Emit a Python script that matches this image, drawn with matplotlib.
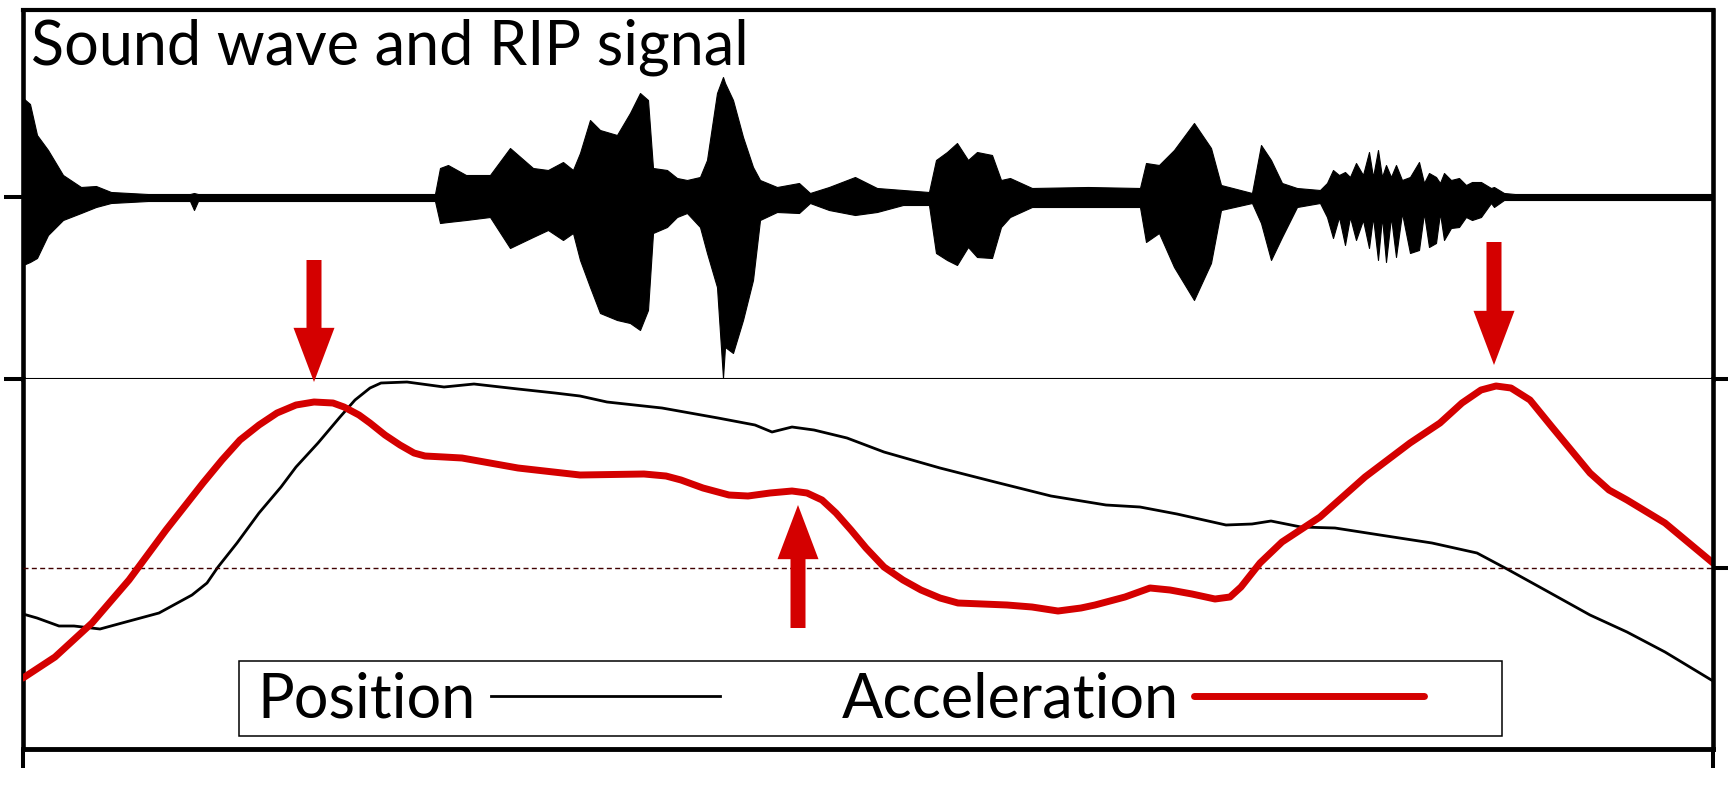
import matplotlib
matplotlib.use("Agg")
import matplotlib.pyplot as plt
from matplotlib.patches import Rectangle

plt.rcParams["font.family"] = ["Lato", "DejaVu Sans"]

RED = "#d40000"

# sound wave, upper and lower envelope (time in s, arbitrary amplitude)
wave_t = [0.000, 0.014, 0.028, 0.050, 0.080, 0.116, 0.146, 0.176, 0.250, 0.334,
          0.342, 0.350, 0.554, 0.754, 0.824, 0.834, 0.850, 0.886, 0.934, 0.974,
          1.020, 1.050, 1.080, 1.100, 1.114, 1.134, 1.154, 1.188, 1.214, 1.234,
          1.250, 1.260, 1.288, 1.308, 1.328, 1.354, 1.368, 1.388, 1.400, 1.404,
          1.420, 1.440, 1.460, 1.474, 1.508, 1.552, 1.574, 1.612, 1.664, 1.708,
          1.760, 1.812, 1.826, 1.848, 1.868, 1.890, 1.908, 1.938, 1.956, 1.974,
          2.018, 2.130, 2.234, 2.246, 2.272, 2.302, 2.342, 2.376, 2.396, 2.458,
          2.476, 2.496, 2.518, 2.548, 2.594, 2.608, 2.620, 2.632, 2.644, 2.654,
          2.666, 2.680, 2.692, 2.700, 2.710, 2.718, 2.726, 2.736, 2.746, 2.758,
          2.774, 2.792, 2.802, 2.812, 2.826, 2.834, 2.842, 2.856, 2.872, 2.886,
          2.898, 2.916, 2.936, 2.942, 2.962, 2.984, 3.380]
wave_hi = [0.495, 0.465, 0.310, 0.235, 0.110, 0.050, 0.055, 0.025, 0.015, 0.015,
           0.020, 0.015, 0.015, 0.015, 0.015, 0.145, 0.160, 0.110, 0.110, 0.245,
           0.145, 0.135, 0.175, 0.135, 0.220, 0.385, 0.335, 0.310, 0.420, 0.520,
           0.485, 0.145, 0.135, 0.095, 0.085, 0.100, 0.185, 0.520, 0.600, 0.570,
           0.485, 0.300, 0.150, 0.085, 0.050, 0.070, 0.020, 0.050, 0.100, 0.045,
           0.035, 0.025, 0.185, 0.225, 0.270, 0.185, 0.225, 0.210, 0.085, 0.095,
           0.045, 0.050, 0.045, 0.170, 0.160, 0.235, 0.370, 0.245, 0.060, 0.020,
           0.260, 0.185, 0.070, 0.045, 0.035, 0.070, 0.135, 0.110, 0.125, 0.100,
           0.170, 0.110, 0.225, 0.100, 0.235, 0.100, 0.160, 0.100, 0.160, 0.085,
           0.100, 0.175, 0.070, 0.120, 0.100, 0.070, 0.120, 0.085, 0.095, 0.060,
           0.075, 0.075, 0.045, 0.050, 0.020, 0.015, 0.015]
wave_lo = [-0.340, -0.325, -0.305, -0.190, -0.115, -0.080, -0.050, -0.030, -0.020, -0.020,
           -0.065, -0.020, -0.020, -0.020, -0.020, -0.130, -0.125, -0.115, -0.100, -0.255,
           -0.200, -0.165, -0.215, -0.180, -0.315, -0.450, -0.580, -0.615, -0.630, -0.665,
           -0.565, -0.180, -0.150, -0.100, -0.080, -0.150, -0.280, -0.450, -0.905, -0.750,
           -0.780, -0.615, -0.415, -0.115, -0.075, -0.080, -0.030, -0.065, -0.090, -0.075,
           -0.040, -0.040, -0.280, -0.315, -0.340, -0.250, -0.300, -0.305, -0.150, -0.100,
           -0.050, -0.050, -0.050, -0.225, -0.180, -0.350, -0.515, -0.330, -0.065, -0.030,
           -0.130, -0.315, -0.200, -0.050, -0.030, -0.100, -0.205, -0.100, -0.240, -0.100,
           -0.215, -0.115, -0.255, -0.100, -0.315, -0.100, -0.325, -0.100, -0.300, -0.080,
           -0.280, -0.265, -0.080, -0.250, -0.230, -0.080, -0.215, -0.155, -0.150, -0.100,
           -0.115, -0.100, -0.030, -0.050, -0.015, -0.015, -0.015]

# RIP position signal
pos_t = [0.000, 0.028, 0.072, 0.102, 0.154, 0.198, 0.272, 0.338, 0.368, 0.390,
         0.428, 0.472, 0.516, 0.546, 0.590, 0.634, 0.664, 0.694, 0.716, 0.768,
         0.842, 0.902, 0.990, 1.064, 1.114, 1.168, 1.278, 1.390, 1.464, 1.498,
         1.538, 1.582, 1.648, 1.722, 1.834, 1.944, 2.056, 2.166, 2.234, 2.308,
         2.406, 2.458, 2.496, 2.556, 2.624, 2.714, 2.818, 2.908, 2.968, 3.044,
         3.134, 3.208, 3.284, 3.380]
pos_v = [0.540, 0.524, 0.492, 0.492, 0.480, 0.504, 0.544, 0.616, 0.664, 0.728,
         0.824, 0.944, 1.048, 1.128, 1.224, 1.328, 1.396, 1.444, 1.464, 1.468,
         1.448, 1.460, 1.440, 1.424, 1.412, 1.388, 1.364, 1.324, 1.296, 1.268,
         1.288, 1.276, 1.244, 1.188, 1.124, 1.068, 1.012, 0.976, 0.968, 0.940,
         0.896, 0.900, 0.912, 0.888, 0.884, 0.856, 0.824, 0.784, 0.720, 0.636,
         0.536, 0.468, 0.388, 0.272]

# acceleration (zero at the dashed line)
acc_t = [0.000, 0.064, 0.138, 0.212, 0.286, 0.360, 0.398, 0.434, 0.472, 0.508,
         0.546, 0.582, 0.620, 0.642, 0.672, 0.694, 0.724, 0.754, 0.782, 0.804,
         0.842, 0.878, 0.990, 1.114, 1.242, 1.286, 1.316, 1.360, 1.412, 1.450,
         1.494, 1.538, 1.568, 1.598, 1.626, 1.656, 1.686, 1.722, 1.760, 1.796,
         1.834, 1.870, 1.968, 2.018, 2.070, 2.116, 2.144, 2.204, 2.254, 2.294,
         2.338, 2.384, 2.414, 2.436, 2.474, 2.518, 2.594, 2.684, 2.774, 2.834,
         2.878, 2.916, 2.946, 2.976, 3.014, 3.058, 3.096, 3.134, 3.172, 3.208,
         3.284, 3.380]
acc_v = [-0.550, -0.445, -0.275, -0.060, 0.190, 0.425, 0.540, 0.640, 0.715, 0.775,
         0.815, 0.830, 0.825, 0.805, 0.765, 0.725, 0.665, 0.615, 0.575, 0.560,
         0.555, 0.550, 0.500, 0.465, 0.470, 0.460, 0.440, 0.400, 0.365, 0.360,
         0.375, 0.385, 0.375, 0.340, 0.275, 0.190, 0.100, 0.005, -0.060, -0.110,
         -0.150, -0.175, -0.185, -0.195, -0.215, -0.200, -0.185, -0.145, -0.100, -0.110,
         -0.130, -0.155, -0.145, -0.095, 0.025, 0.130, 0.255, 0.455, 0.625, 0.725,
         0.825, 0.890, 0.910, 0.900, 0.840, 0.705, 0.590, 0.475, 0.390, 0.340,
         0.225, 0.025]

# arrows marking acceleration events: time, tip, tail
arrow_t = [0.582, 1.550, 2.942]
arrow_tip = [0.930, 0.315, 1.015]
arrow_tail = [1.540, -0.300, 1.630]

T_END = 3.38

fig = plt.figure(figsize=(17.28, 7.87), dpi=100)
ax_top = fig.add_axes([0.01331, 0.51842, 0.97801, 0.46887])
ax_bot = fig.add_axes([0.01331, 0.04828, 0.97801, 0.47014])
ax_acc = ax_bot.twinx()

# --- sound wave
ax_top.fill_between(wave_t, wave_lo, wave_hi, color="black", lw=0.8)
ax_top.set_xlim(0, T_END)
ax_top.set_ylim(-0.91, 0.935)
ax_top.set_xticks([])
ax_top.set_yticks([0])
ax_top.tick_params(axis="y", direction="out", length=13.7, width=2.9,
                   labelleft=False)
for side in ["left", "right"]:
    ax_top.spines[side].set_linewidth(3.3)
ax_top.spines["top"].set_linewidth(3.0)
ax_top.spines["bottom"].set_linewidth(1.5)
ax_top.text(0.005, 0.851, "Sound wave and RIP signal", transform=ax_top.transAxes,
            fontsize=44, va="baseline", ha="left")

# --- position / acceleration
l_pos, = ax_bot.plot(pos_t, pos_v, color="black", lw=2.0)
ax_bot.set_xlim(0, T_END)
ax_bot.set_ylim(0, 1.48)
ax_bot.set_xticks([0, T_END])
ax_bot.set_yticks([1.48])
ax_bot.tick_params(direction="out", length=13.7, width=2.9,
                   labelleft=False, labelbottom=False)
ax_bot.spines["top"].set_visible(False)
ax_bot.spines["right"].set_visible(False)
ax_bot.spines["left"].set_linewidth(3.3)
ax_bot.spines["bottom"].set_linewidth(3.5)

ax_acc.axhline(0, color="#400000", lw=1.0, ls=(0, (3.6, 2.4)))
l_acc, = ax_acc.plot(acc_t, acc_v, color=RED, lw=5, solid_joinstyle="round",
                     solid_capstyle="round")
ax_acc.set_ylim(-0.905, 0.945)
ax_acc.set_yticks([0, 0.945])
ax_acc.tick_params(direction="out", length=13.7, width=2.9, labelright=False)
for side in ["top", "left", "bottom"]:
    ax_acc.spines[side].set_visible(False)
ax_acc.spines["right"].set_linewidth(3.3)

for t, tip, tail in zip(arrow_t, arrow_tip, arrow_tail):
    ax_acc.annotate("", xy=(t, tip), xytext=(t, tail), annotation_clip=False,
                    arrowprops=dict(arrowstyle="simple,head_length=39,head_width=29.5,tail_width=10.8",
                                    mutation_scale=1, color=RED, lw=0,
                                    shrinkA=0, shrinkB=0))

# legend: entries with the handle after the label, in a plain box
ax_acc.add_patch(Rectangle((0.1278, 0.0351), 0.7473, 0.2027, transform=ax_acc.transAxes,
                           facecolor="white", edgecolor="black", lw=1.1, zorder=3))
ax_acc.legend([l_pos, l_acc], ["Position", "Acceleration"], ncol=2, markerfirst=False,
              loc="center left", bbox_to_anchor=(0.1385, 0.132), frameon=False,
              fontsize=44, handlelength=3.75, handletextpad=0.25, columnspacing=2.0,
              borderpad=0, borderaxespad=0)

fig.savefig("out.png", dpi=100)
